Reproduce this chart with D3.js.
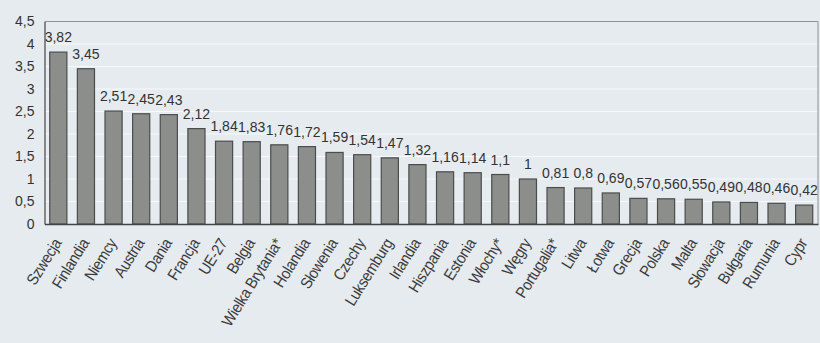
<!DOCTYPE html>
<html>
<head>
<meta charset="utf-8">
<script src="https://cdn.jsdelivr.net/npm/d3@7/dist/d3.min.js"></script>
<style>
  html, body { margin: 0; padding: 0; background: #e6ebef; }
  svg { display: block; font-family: "Liberation Sans", Arial, sans-serif; }
</style>
</head>
<body>
<div id="chart"></div>
<script>
const countries = ['Szwecja', 'Finlandia', 'Niemcy', 'Austria', 'Dania', 'Francja', 'UE-27', 'Belgia',
  'Wielka Brytania*', 'Holandia', 'Słowenia', 'Czechy', 'Luksemburg', 'Irlandia', 'Hiszpania', 'Estonia',
  'Włochy*', 'Węgry', 'Portugalia*', 'Litwa', 'Łotwa', 'Grecja', 'Polska', 'Malta', 'Słowacja',
  'Bułgaria', 'Rumunia', 'Cypr'];
const values = [3.82, 3.45, 2.51, 2.45, 2.43, 2.12, 1.84, 1.83, 1.76, 1.72, 1.59, 1.54, 1.47, 1.32,
  1.16, 1.14, 1.1, 1, 0.81, 0.8, 0.69, 0.57, 0.56, 0.55, 0.49, 0.48, 0.46, 0.42];
const yTicks = [0, 0.5, 1, 1.5, 2, 2.5, 3, 3.5, 4, 4.5];

const width = 820, height = 343;
const margin = {top: 21.5, right: 2, bottom: 119, left: 44.5};

const rows = countries.map((c, i) => ({key: c, value: values[i]}));
const fmt = v => String(v).replace('.', ',');

const svg = d3.select('#chart')
    .append('svg')
    .attr('width', width)
    .attr('height', height);

const x = d3.scaleBand()
    .domain(countries)
    .range([margin.left, width - margin.right])
    .paddingInner(0.38)
    .paddingOuter(0.19);

const y = d3.scaleLinear()
    .domain([0, 4.5])
    .range([height - margin.bottom, margin.top]);

// grid
svg.append('g')
    .selectAll('line')
    .data(yTicks.filter(t => t > 0))
    .enter()
    .append('line')
    .attr('x1', margin.left)
    .attr('x2', width - margin.right)
    .attr('y1', d => y(d))
    .attr('y2', d => y(d))
    .attr('stroke', '#f7f9fb')
    .attr('stroke-width', 1.2);

// frame: top and right edges of the plot area
svg.append('path')
    .attr('d', `M${margin.left},${y(4.5)}H${width - margin.right}V${y(0)}`)
    .attr('fill', 'none')
    .attr('stroke', '#8d9296')
    .attr('stroke-width', 1);

// bars
svg.append('g')
    .selectAll('rect')
    .data(rows)
    .enter()
    .append('rect')
    .attr('x', d => x(d.key))
    .attr('y', d => y(d.value))
    .attr('width', x.bandwidth())
    .attr('height', d => y(0) - y(d.value))
    .attr('fill', '#8b8e8b')
    .attr('stroke', '#4b4d4d')
    .attr('stroke-width', 1.2);

// value labels
svg.append('g')
    .selectAll('text')
    .data(rows)
    .enter()
    .append('text')
    .attr('x', d => x(d.key) + x.bandwidth() / 2)
    .attr('y', d => y(d.value) - 10)
    .attr('text-anchor', 'middle')
    .attr('font-size', 14)
    .attr('fill', '#333')
    .text(d => fmt(d.value));

// y axis
const yAxis = svg.append('g')
    .attr('transform', `translate(${margin.left},0)`)
    .call(d3.axisLeft(y).tickValues(yTicks).tickSize(0).tickPadding(10).tickFormat(fmt));
yAxis.select('.domain').attr('stroke', '#444').attr('stroke-width', 1.2);
yAxis.selectAll('text')
    .attr('font-size', 14)
    .attr('fill', '#333')
    .attr('font-family', '"Liberation Sans", Arial, sans-serif');

// x axis, steep slanted labels
const xAxis = svg.append('g')
    .attr('transform', `translate(0,${y(0)})`)
    .call(d3.axisBottom(x).tickSize(0).tickPadding(0));
xAxis.select('.domain').attr('stroke', '#444').attr('stroke-width', 1.5);
xAxis.selectAll('text')
    .attr('font-size', 16)
    .attr('letter-spacing', -0.4)
    .attr('fill', '#3c3c3c')
    .attr('font-family', '"Liberation Sans", Arial, sans-serif')
    .attr('text-anchor', 'end')
    .attr('y', 0)
    .attr('dy', '0.35em')
    .attr('transform', 'translate(-1,16) rotate(-58) scale(0.9,1)');
</script>
</body>
</html>
